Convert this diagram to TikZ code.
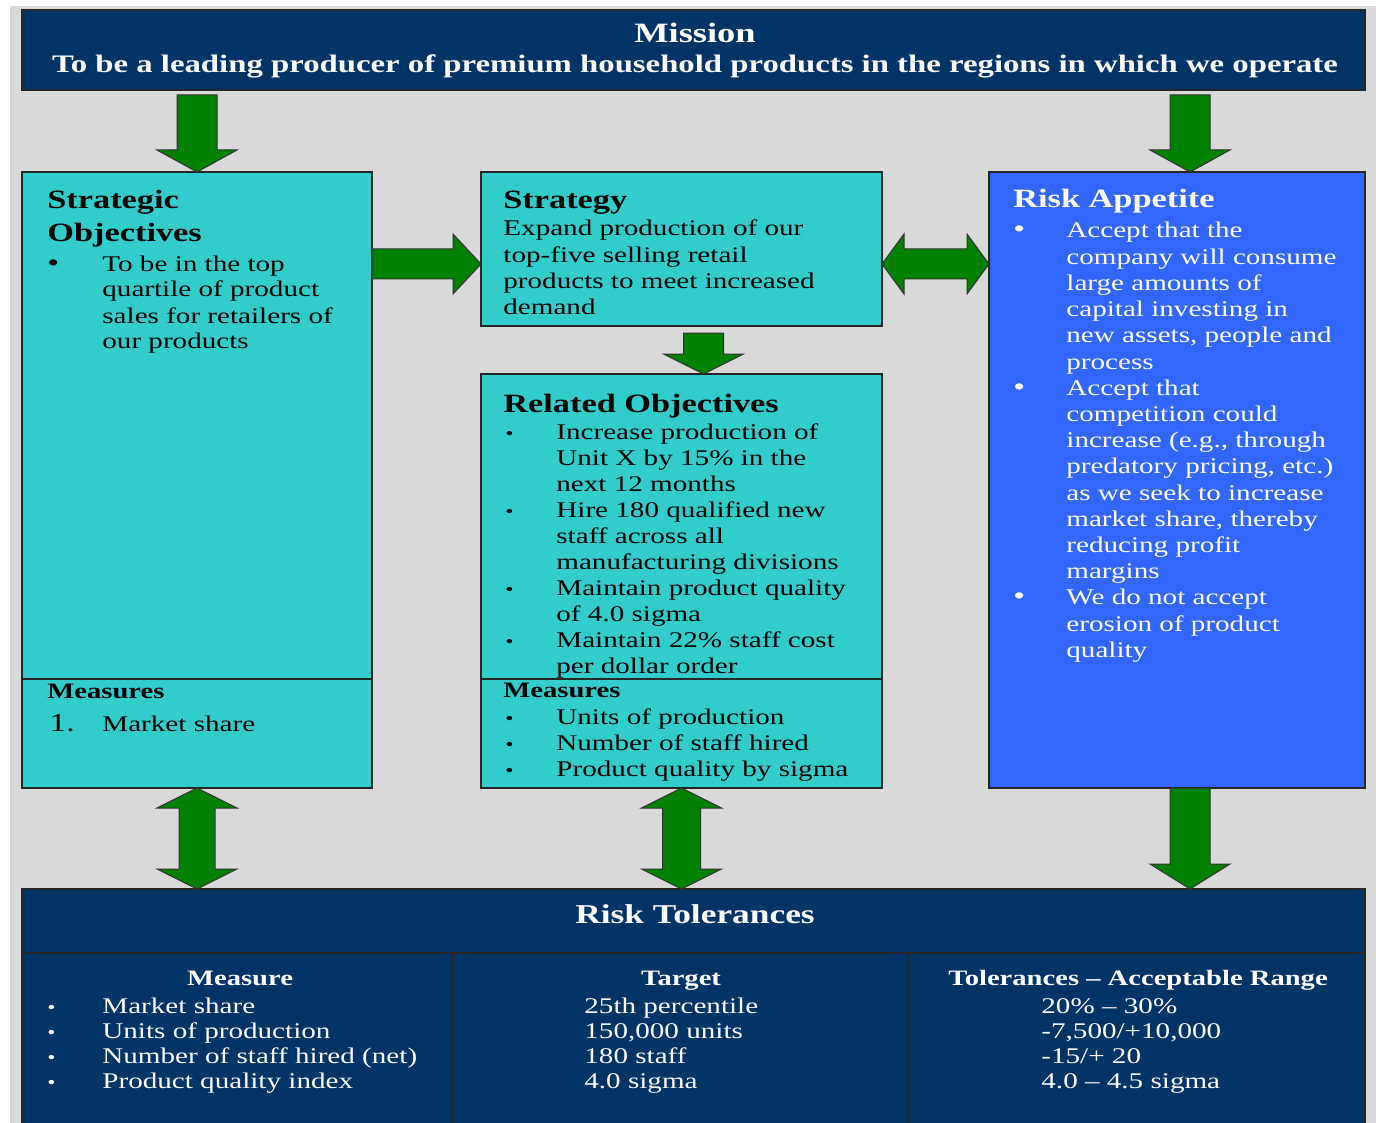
\documentclass[tikz,border=0pt]{standalone}
\usepackage{fontspec}
\setmainfont[FakeStretch=1.3]{Liberation Serif}
\usetikzlibrary{calc}
\definecolor{bggray}{HTML}{D9D9D9}
\definecolor{navy}{HTML}{003366}
\definecolor{boxcyan}{HTML}{33CCCC}
\definecolor{rablue}{HTML}{3366FF}
\definecolor{arrowgreen}{HTML}{008000}

\newcommand\fatdown[5]{\draw[fatarrow] let \p1=#1, \p2=#2 in (\x2-#3,\y1) -- (\x2+#3,\y1) -- (\x2+#3,\y2+#5) -- (\x2+#4,\y2+#5) -- (\x2,\y2) -- (\x2-#4,\y2+#5) -- (\x2-#3,\y2+#5) -- cycle;}
\newcommand\fatvdouble[5]{\draw[fatarrow] let \p1=#1, \p2=#2 in (\x1,\y1) -- (\x1+#4,\y1-#5) -- (\x1+#3,\y1-#5) -- (\x1+#3,\y2+#5) -- (\x1+#4,\y2+#5) -- (\x1,\y2) -- (\x1-#4,\y2+#5) -- (\x1-#3,\y2+#5) -- (\x1-#3,\y1-#5) -- (\x1-#4,\y1-#5) -- cycle;}
\newcommand\fatright[5]{\draw[fatarrow] let \p1=#1, \p2=#2 in (\x1,\y2+#3) -- (\x2-#5,\y2+#3) -- (\x2-#5,\y2+#4) -- (\x2,\y2) -- (\x2-#5,\y2-#4) -- (\x2-#5,\y2-#3) -- (\x1,\y2-#3) -- cycle;}
\newcommand\fathdouble[5]{\draw[fatarrow] let \p1=#1, \p2=#2 in (\x1,\y1) -- (\x1+#5,\y1+#4) -- (\x1+#5,\y1+#3) -- (\x2-#5,\y1+#3) -- (\x2-#5,\y1+#4) -- (\x2,\y1) -- (\x2-#5,\y1-#4) -- (\x2-#5,\y1-#3) -- (\x1+#5,\y1-#3) -- (\x1+#5,\y1-#4) -- cycle;}

\begin{document}
\begin{tikzpicture}[x=0.5pt,y=-0.5pt,
  fatarrow/.style={fill=arrowgreen, draw=black!80, line width=0.5pt, line join=miter},
  boxbase/.style={anchor=north west, inner sep=0pt, outer sep=0pt, draw=black!85, line width=0.6pt},
  cbox/.style={boxbase, fill=boxcyan},
  bbox/.style={boxbase, fill=rablue},
  nbox/.style={boxbase, fill=navy},
  divline/.style={draw=black!85, line width=0.6pt},
  txt/.style={anchor=base west, inner sep=0pt, font=\fontsize{11.2}{13}\selectfont},
  hd/.style={anchor=base west, inner sep=0pt, font=\fontsize{13.2}{16}\selectfont\bfseries},
  sub/.style={anchor=base west, inner sep=0pt, font=\fontsize{11}{13}\selectfont\bfseries},
  bigdot/.style={anchor=base west, inner sep=0pt, font=\fontsize{13}{13}\selectfont},
  smalldot/.style={anchor=base west, inner sep=0pt, font=\fontsize{9}{9}\selectfont},
]
\useasboundingbox (0,0) rectangle (1376,1123);
\fill[bggray] (10,6) rectangle (1376,1123);

% boxes
\node[nbox, minimum width=671.5pt, minimum height=40pt] (mission) at (22,10) {};
\node[cbox, minimum width=175pt, minimum height=308pt] (so) at (22,172) {};
\node[cbox, minimum width=200.5pt, minimum height=77pt] (st) at (481,172) {};
\node[cbox, minimum width=200.5pt, minimum height=207pt] (rel) at (481,374) {};
\node[bbox, minimum width=188pt, minimum height=308pt] (ra) at (989,172) {};
\node[nbox, minimum width=671.5pt, minimum height=130pt] (rt) at (22,889) {};

% dividers
\draw[divline] ($(so.north west)+(0,507)$) -- ($(so.north east)+(0,507)$);
\draw[divline] ($(rel.north west)+(0,305)$) -- ($(rel.north east)+(0,305)$);
\draw[divline] ($(rt.north west)+(0,64)$) -- ($(rt.north east)+(0,64)$);
\draw[divline] ($(rt.north west)+(430,64)$) -- ($(rt.north west)+(430,300)$);
\draw[divline] ($(rt.north west)+(886,64)$) -- ($(rt.north west)+(886,300)$);

% arrows
\fatdown{($(so.north |- mission.south)+(0,5)$)}{(so.north)}{10pt}{20pt}{11pt}
\fatdown{($(ra.north |- mission.south)+(13,5)$)}{($(ra.north)+(13,0)$)}{10pt}{20pt}{11pt}
\fatright{($(so.north east)+(0,92)$)}{($(st.north west)+(0,92)$)}{7.5pt}{15pt}{14pt}
\fathdouble{($(st.north east)+(0,92)$)}{($(ra.north west)+(0,92)$)}{7.5pt}{15pt}{11pt}
\fatdown{($(st.south)+(22,7)$)}{($(rel.north)+(22,0)$)}{10pt}{20pt}{10pt}
\fatvdouble{(so.south)}{(so.south |- rt.north)}{9pt}{20pt}{10pt}
\fatvdouble{(rel.south)}{(rel.south |- rt.north)}{9.5pt}{20pt}{10pt}
\fatdown{($(ra.south)+(13,0)$)}{($(ra.south |- rt.north)+(13,0)$)}{10pt}{20pt}{12.5pt}

% mission text
\node[anchor=base, inner sep=0pt, text=white, font=\fontsize{14}{16}\selectfont\bfseries] (mtitle) at (695,43) {Mission};
\node[anchor=base, inner sep=0pt, text=white, font=\fontsize{12.6}{15}\selectfont\bfseries] (mline) at (695,73) {To be a leading producer of premium household products in the regions in which we operate};

% strategic objectives
\node[hd] (soh1) at (47,209) {Strategic};
\node[hd] (soh2) at (47,242) {Objectives};
\node[bigdot] (sob) at (47,271) {•};
\foreach \t [count=\i from 0] in {To be in the top, quartile of product, sales for retailers of, our products}
  \node[txt] (sol\i) at (102,271+26*\i) {\t};
\node[sub] (som) at (47,698) {Measures};
\node[anchor=base west, inner sep=0pt, font=\fontsize{13}{13}\selectfont] (som1n) at (49,731) {1.};
\node[txt] (som1) at (102,731) {Market share};

% strategy
\node[hd] (sth) at (503,209) {Strategy};
\foreach \t [count=\i from 0] in {Expand production of our, top-five selling retail, products to meet increased, demand}
  \node[txt] (stl\i) at (503,236+26.3*\i) {\t};

% related objectives
\node[hd] (relh) at (503,412) {Related Objectives};
\foreach \t [count=\i from 0] in {Increase production of, Unit X by 15\% in the, next 12 months, Hire 180 qualified new, staff across all, manufacturing divisions, Maintain product quality, of 4.0 sigma, Maintain 22\% staff cost, per dollar order}
  \node[txt] (rell\i) at (556,439+26*\i) {\t};
\foreach \i in {0,3,6,8}
  \node[smalldot] (relb\i) at (505,439+26*\i) {•};
\node[sub] (relm) at (503,697) {Measures};
\foreach \t [count=\i from 0] in {Units of production, Number of staff hired, Product quality by sigma}
  \node[txt] (relml\i) at (556,724+26*\i) {\t};
\foreach \i in {0,1,2}
  \node[smalldot] (relmb\i) at (505,724+26*\i) {•};

% risk appetite
\node[hd, text=white] (rah) at (1013,208) {Risk Appetite};
\foreach \t [count=\i from 0] in {Accept that the, company will consume, large amounts of, capital investing in, {new assets, people and}, process, Accept that, competition could, {increase (e.g., through}, {predatory pricing, etc.)}, as we seek to increase, {market share, thereby}, reducing profit, margins, We do not accept, erosion of product, quality}
  \node[txt, text=white] (ral\i) at (1066,238+26.2*\i) {\t};
\foreach \i in {0,6,14}
  \node[bigdot, text=white] (rab\i) at (1013,238+26.2*\i) {•};

% risk tolerances
\node[anchor=base, inner sep=0pt, text=white, font=\fontsize{13.6}{16}\selectfont\bfseries] (rth) at (695,923) {Risk Tolerances};
\node[anchor=base, inner sep=0pt, text=white, font=\fontsize{11}{13}\selectfont\bfseries] (rtc1) at (240,985) {Measure};
\node[anchor=base, inner sep=0pt, text=white, font=\fontsize{11}{13}\selectfont\bfseries] (rtc2) at (681,985) {Target};
\node[anchor=base, inner sep=0pt, text=white, font=\fontsize{11}{13}\selectfont\bfseries] (rtc3) at (1138,985) {Tolerances – Acceptable Range};
\foreach \t [count=\i from 0] in {Market share, Units of production, Number of staff hired (net), Product quality index}
  \node[txt, text=white] (rtm\i) at (102,1013+25*\i) {\t};
\foreach \i in {0,1,2,3}
  \node[smalldot, text=white] (rtb\i) at (47,1013+25*\i) {•};
\foreach \t [count=\i from 0] in {25th percentile, {150,000 units}, 180 staff, 4.0 sigma}
  \node[txt, text=white] (rtt\i) at (584,1013+25*\i) {\t};
\foreach \t [count=\i from 0] in {20\% – 30\%, {-7,500/+10,000}, -15/+ 20, 4.0 – 4.5 sigma}
  \node[txt, text=white] (rtr\i) at (1041,1013+25*\i) {\t};
\end{tikzpicture}
\end{document}
